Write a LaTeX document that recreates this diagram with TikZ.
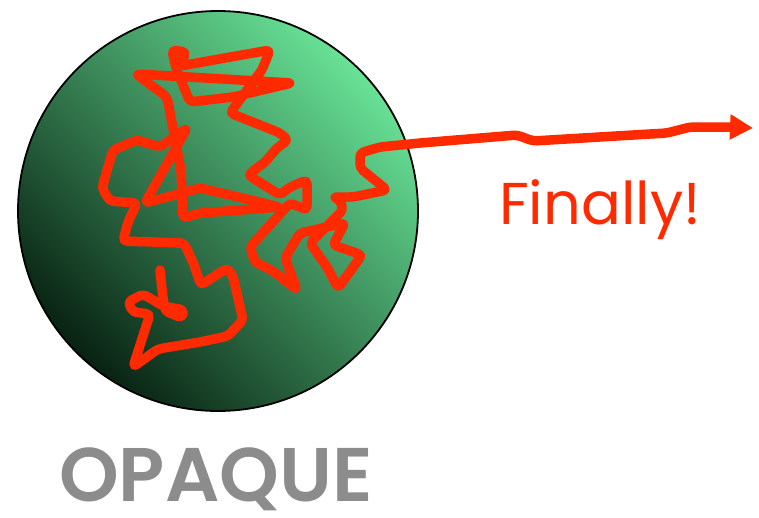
\documentclass[tikz,border=0pt]{standalone}
\usepackage{fontspec}
\setmainfont{Poppins}
\newfontfamily\labelfont{Poppins SemiBold}
\usetikzlibrary{arrows.meta}
\definecolor{walkred}{RGB}{255,42,0}
\definecolor{labelgray}{RGB}{140,140,140}
\definecolor{ballhi}{RGB}{104,226,150}
\definecolor{ballmid}{RGB}{68,148,98}
\definecolor{balllo}{RGB}{8,34,18}
\begin{document}
\begin{tikzpicture}[x=1pt,y=-1pt,
  ball/.style={circle, minimum size=400pt, inner sep=0pt, draw=black, line width=1.8pt,
    top color=ballhi, middle color=ballmid, bottom color=balllo, shading angle=-45},
  walk/.style={draw=walkred, line width=9.5pt, line cap=round, line join=round, rounded corners=4pt},
  caption/.style={anchor=base, inner sep=0pt}]
\useasboundingbox (0,0) rectangle (759,517);

% the opaque sphere
\node[ball] (sphere) at (218,211) {};

% random walk of the photon, escaping to the right
\coordinate (start) at (160,270);
\coordinate (escape) at (753,128);
\draw[walk, -{Triangle[length=23pt,width=24pt]}] (start)
  -- (163,298) -- (165,311) -- (182,318) -- (184,310) -- (163,306) -- (143,294)
  -- (128,302) -- (133,312) -- (150,314) -- (133,367) -- (158,349) -- (200,342)
  -- (228,336) -- (243,320) -- (233,276) -- (227,268) -- (201,285) -- (193,262)
  -- (184,243) -- (123,241) -- (128,222) -- (137,203) -- (110,201) -- (102,188)
  -- (113,150) -- (137,140) -- (160,147) -- (187,128) -- (145,203) -- (200,188)
  -- (280,207) -- (200,213) -- (183,218) -- (181,170) -- (172,123) -- (167,97)
  -- (136,74) -- (292,83) -- (233,97) -- (190,102) -- (176,68) -- (172,50)
  -- (186,52) -- (180,66) -- (270,50) -- (262,70) -- (230,113) -- (280,133)
  -- (288,140) -- (277,148) -- (265,162) -- (248,175) -- (280,195) -- (290,187)
  -- (307,180) -- (307,210) -- (290,203) -- (250,247) -- (255,262) -- (273,271)
  -- (297,290) -- (285,258) -- (300,233) -- (345,223) -- (333,245) -- (362,255)
  -- (338,288) -- (327,267) -- (310,243) -- (343,210) -- (340,200) -- (333,197)
  -- (353,197) -- (387,190) -- (360,168) -- (360,153) -- (380,147) -- (420,143)
  -- (517,135) -- (533,141) -- (633,135) -- (667,133) -- (690,127) -- (730,127)
  -- (escape);

% labels
\node[caption, text=walkred, font=\fontsize{59}{59}\selectfont] (finally) at (600,224) {Finally!};
\node[caption, text=labelgray, font=\fontsize{76}{76}\selectfont\labelfont] (opaque) at (216,501) {OPAQUE};
\end{tikzpicture}
\end{document}
